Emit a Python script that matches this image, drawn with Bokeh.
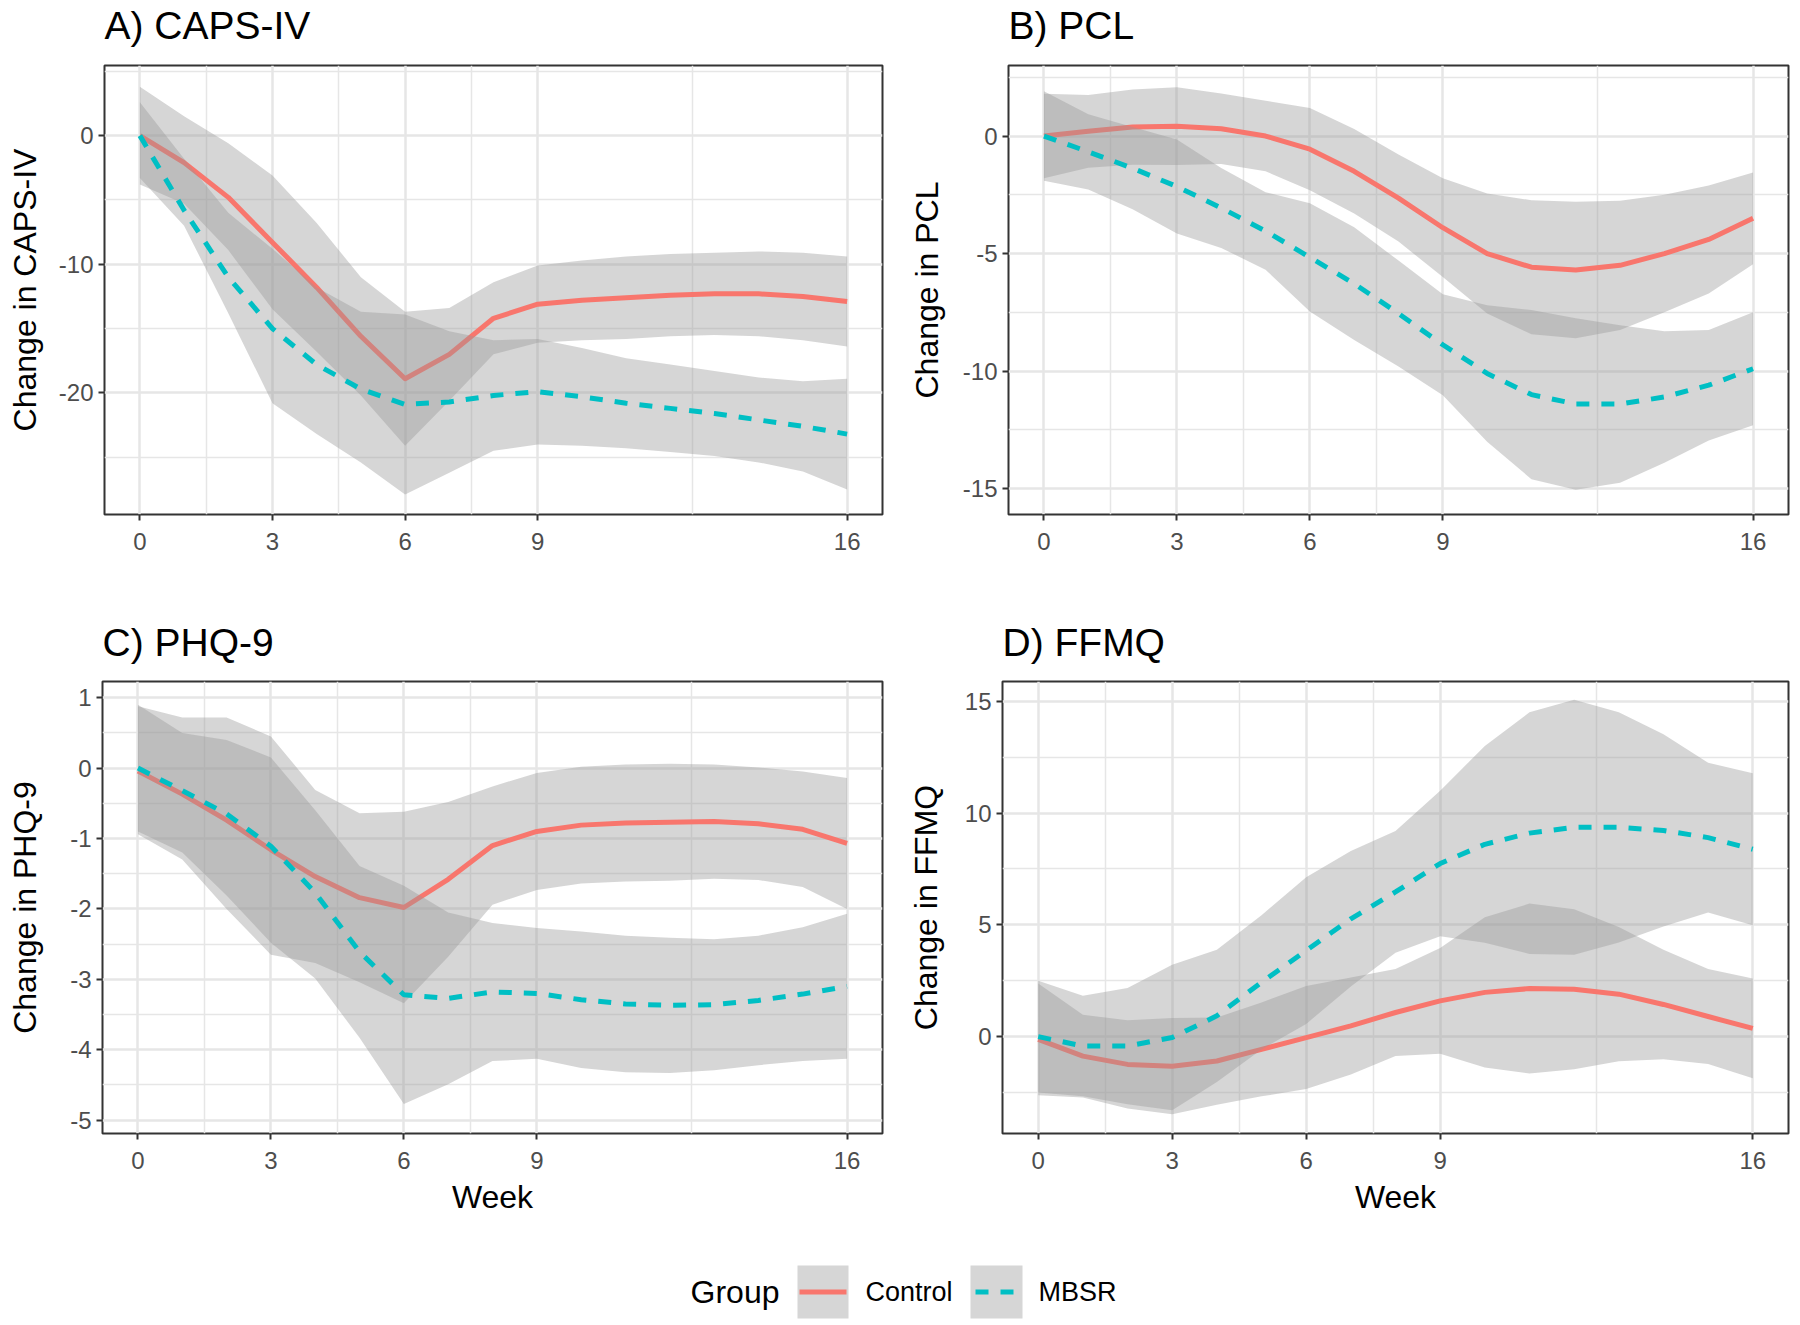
from bokeh.plotting import figure
from bokeh.models import FixedTicker, Range1d, Label
from bokeh.layouts import column, row
from bokeh.embed import file_html
from bokeh.resources import INLINE

# ---------------- data ----------------
weeks = list(range(17))
week_ticks = [0, 3, 6, 9, 16]
week_minor = [1.5, 4.5, 7.5, 12.5]
panel_titles = ["A) CAPS-IV", "B) PCL", "C) PHQ-9", "D) FFMQ"]
y_labels = ["Change in CAPS-IV", "Change in PCL", "Change in PHQ-9", "Change in FFMQ"]

# A) CAPS-IV
caps_ctrl_mean = [0, -2.1, -4.8, -8.3, -11.8, -15.6, -18.9, -17.0, -14.2, -13.1, -12.8, -12.6, -12.4, -12.3, -12.3, -12.5, -12.9]
caps_ctrl_lo = [-3.8, -5.3, -8.9, -13.5, -16.8, -20.2, -24.1, -20.6, -17.0, -16.1, -15.9, -15.8, -15.6, -15.5, -15.6, -15.9, -16.4]
caps_ctrl_hi = [3.8, 1.5, -0.6, -3.1, -6.8, -11.0, -13.7, -13.4, -11.4, -10.1, -9.7, -9.4, -9.2, -9.1, -9.0, -9.1, -9.4]
caps_mbsr_mean = [0, -5.8, -11.0, -15.0, -17.8, -19.7, -20.9, -20.7, -20.2, -19.9, -20.3, -20.8, -21.2, -21.6, -22.1, -22.6, -23.2]
caps_mbsr_lo = [-3.3, -7.0, -13.8, -20.8, -23.2, -25.4, -27.9, -26.2, -24.5, -24.0, -24.1, -24.3, -24.6, -24.9, -25.4, -26.1, -27.5]
caps_mbsr_hi = [2.6, -1.8, -6.0, -8.8, -11.8, -13.7, -13.9, -15.2, -15.9, -15.8, -16.5, -17.3, -17.8, -18.3, -18.8, -19.1, -18.9]

# B) PCL
pcl_ctrl_mean = [0, 0.2, 0.38, 0.42, 0.31, 0.0, -0.56, -1.5, -2.64, -3.9, -5.0, -5.58, -5.7, -5.5, -5.0, -4.4, -3.5]
pcl_ctrl_lo = [-1.8, -1.35, -1.22, -1.23, -1.19, -1.5, -2.31, -3.3, -4.49, -6.0, -7.55, -8.43, -8.6, -8.25, -7.5, -6.7, -5.45]
pcl_ctrl_hi = [1.8, 1.75, 1.98, 2.07, 1.81, 1.5, 1.19, 0.3, -0.79, -1.8, -2.45, -2.73, -2.8, -2.75, -2.5, -2.1, -1.55]
pcl_mbsr_mean = [0, -0.67, -1.37, -2.15, -3.06, -4.04, -5.16, -6.28, -7.55, -8.88, -10.1, -11.0, -11.4, -11.4, -11.1, -10.6, -9.9]
pcl_mbsr_lo = [-1.9, -2.27, -3.12, -4.15, -4.76, -5.69, -7.46, -8.68, -9.8, -11.03, -13.0, -14.6, -15.05, -14.75, -13.9, -12.95, -12.3]
pcl_mbsr_hi = [1.9, 0.93, 0.38, -0.15, -1.36, -2.39, -2.86, -3.88, -5.3, -6.73, -7.2, -7.4, -7.75, -8.05, -8.3, -8.25, -7.5]

# C) PHQ-9
phq_ctrl_mean = [-0.04, -0.37, -0.74, -1.16, -1.54, -1.84, -1.98, -1.58, -1.1, -0.9, -0.81, -0.78, -0.77, -0.76, -0.79, -0.87, -1.07]
phq_ctrl_lo = [-0.94, -1.3, -2.0, -2.65, -2.77, -3.04, -3.34, -2.68, -1.94, -1.73, -1.64, -1.61, -1.6, -1.57, -1.59, -1.69, -2.0]
phq_ctrl_hi = [0.88, 0.72, 0.72, 0.45, -0.31, -0.64, -0.62, -0.48, -0.26, -0.07, 0.02, 0.05, 0.06, 0.05, 0.01, -0.05, -0.14]
phq_mbsr_mean = [0, -0.32, -0.65, -1.11, -1.77, -2.61, -3.22, -3.27, -3.18, -3.2, -3.29, -3.35, -3.37, -3.36, -3.3, -3.21, -3.1]
phq_mbsr_lo = [-0.9, -1.2, -1.81, -2.48, -2.99, -3.83, -4.77, -4.49, -4.16, -4.13, -4.26, -4.32, -4.33, -4.29, -4.22, -4.16, -4.13]
phq_mbsr_hi = [0.9, 0.5, 0.4, 0.15, -0.6, -1.39, -1.67, -2.05, -2.2, -2.27, -2.32, -2.38, -2.41, -2.43, -2.38, -2.26, -2.07]

# D) FFMQ
ffmq_ctrl_mean = [-0.12, -0.87, -1.24, -1.32, -1.09, -0.57, -0.04, 0.48, 1.08, 1.6, 1.98, 2.15, 2.12, 1.9, 1.44, 0.9, 0.37]
ffmq_ctrl_lo = [-2.62, -2.72, -3.21, -3.47, -3.04, -2.67, -2.34, -1.69, -0.87, -0.76, -1.38, -1.65, -1.46, -1.1, -1.01, -1.22, -1.86]
ffmq_ctrl_hi = [2.38, 0.98, 0.73, 0.83, 0.86, 1.53, 2.26, 2.65, 3.03, 3.96, 5.34, 5.95, 5.7, 4.9, 3.89, 3.02, 2.6]
ffmq_mbsr_mean = [0, -0.42, -0.42, -0.04, 0.93, 2.43, 3.85, 5.27, 6.47, 7.74, 8.6, 9.1, 9.36, 9.36, 9.22, 8.9, 8.38]
ffmq_mbsr_lo = [-2.5, -2.67, -3.02, -3.29, -2.03, -0.57, 0.57, 2.24, 3.75, 4.49, 4.2, 3.7, 3.66, 4.21, 4.92, 5.55, 4.98]
ffmq_mbsr_hi = [2.5, 1.83, 2.18, 3.21, 3.89, 5.43, 7.13, 8.3, 9.19, 10.99, 13.0, 14.5, 15.06, 14.51, 13.52, 12.25, 11.78]

groups = ["Control", "MBSR"]
legend_title = "Group"

# ---------------- style ----------------
FONT = "Liberation Sans"
RED = "#F8766D"
TEAL = "#00BFC4"
RIBBON = "#999999"
GRID = "#e6e6e6"
DASH = "13 12"
LINE_W = 5
X_START, X_END = -0.8, 16.8
PAGE_W = 1792


def strip(height):
    """A blank strip whose data units are pixels, used for titles and the legend."""
    s = figure(width=PAGE_W, height=height, x_range=Range1d(0, PAGE_W), y_range=Range1d(0, height),
               output_backend="svg", toolbar_location=None, x_axis_location=None,
               y_axis_location=None, min_border_left=0, min_border_right=0,
               min_border_top=0, min_border_bottom=0, outline_line_color=None,
               background_fill_color="white", border_fill_color="white")
    s.grid.visible = False
    return s


def make_panel(ylabel, yrange, ymajor, yminor, ctrl, mbsr, width, height,
               bl, br, bt, bb, ylab_standoff, xlabel=None):
    p = figure(width=width, height=height, x_range=Range1d(X_START, X_END),
               y_range=Range1d(*yrange), output_backend="svg", toolbar_location=None,
               min_border_left=bl, min_border_right=br, min_border_top=bt,
               min_border_bottom=bb,
               background_fill_color="white", border_fill_color="white")
    p.outline_line_color = "#333333"
    p.outline_line_width = 2

    xt = FixedTicker(ticks=week_ticks, minor_ticks=week_minor)
    yt = FixedTicker(ticks=ymajor, minor_ticks=yminor)
    p.xaxis.ticker = xt
    p.yaxis.ticker = yt
    p.xgrid.ticker = xt
    p.ygrid.ticker = yt
    for g in (p.xgrid, p.ygrid):
        g.grid_line_color = GRID
        g.grid_line_width = 2.5
        g.minor_grid_line_color = GRID
        g.minor_grid_line_width = 1.5
    for ax in (p.xaxis, p.yaxis):
        ax.axis_line_color = None
        ax.major_tick_line_color = "#333333"
        ax.major_tick_line_width = 2
        ax.major_tick_out = 6
        ax.major_tick_in = 0
        ax.minor_tick_line_color = None
        ax.major_label_text_font = FONT
        ax.major_label_text_font_size = "24px"
        ax.major_label_text_color = "#4d4d4d"
        ax.major_label_standoff = 5
        ax.axis_label_text_font = FONT
        ax.axis_label_text_font_size = "32px"
        ax.axis_label_text_font_style = "normal"
        ax.axis_label_text_color = "black"
    p.xaxis.major_label_overrides = {v: str(v) for v in week_ticks}
    p.yaxis.major_label_overrides = {v: str(v) for v in ymajor}
    p.xaxis.major_label_standoff = 12
    p.yaxis.axis_label = ylabel
    p.yaxis.axis_label_standoff = ylab_standoff
    if xlabel:
        p.xaxis.axis_label = xlabel
        p.xaxis.axis_label_standoff = 7

    c_mean, c_lo, c_hi = ctrl
    m_mean, m_lo, m_hi = mbsr
    p.varea(x=weeks, y1=c_lo, y2=c_hi, fill_color=RIBBON, fill_alpha=0.4)
    p.line(weeks, c_mean, line_color=RED, line_width=LINE_W, line_join="round")
    p.varea(x=weeks, y1=m_lo, y2=m_hi, fill_color=RIBBON, fill_alpha=0.4)
    p.line(weeks, m_mean, line_color=TEAL, line_width=LINE_W, line_dash=DASH)
    return p


pA = make_panel(y_labels[0], (-29.45, 5.45), [-20, -10, 0], [-25, -15, -5, 5],
                (caps_ctrl_mean, caps_ctrl_lo, caps_ctrl_hi), (caps_mbsr_mean, caps_mbsr_lo, caps_mbsr_hi),
                width=900, height=560, bl=104, br=18, bt=17, bb=94, ylab_standoff=13)
pB = make_panel(y_labels[1], (-16.1, 3.0), [-15, -10, -5, 0], [-12.5, -7.5, -2.5, 2.5],
                (pcl_ctrl_mean, pcl_ctrl_lo, pcl_ctrl_hi), (pcl_mbsr_mean, pcl_mbsr_lo, pcl_mbsr_hi),
                width=892, height=560, bl=108, br=4, bt=17, bb=94, ylab_standoff=15)
pC = make_panel(y_labels[2], (-5.19, 1.23), [-5, -4, -3, -2, -1, 0, 1],
                [-4.5, -3.5, -2.5, -1.5, -0.5, 0.5],
                (phq_ctrl_mean, phq_ctrl_lo, phq_ctrl_hi), (phq_mbsr_mean, phq_mbsr_lo, phq_mbsr_hi),
                width=900, height=572, bl=102, br=18, bt=15, bb=105, ylab_standoff=24, xlabel="Week")
pD = make_panel(y_labels[3], (-4.33, 15.88), [0, 5, 10, 15], [-2.5, 2.5, 7.5, 12.5],
                (ffmq_ctrl_mean, ffmq_ctrl_lo, ffmq_ctrl_hi), (ffmq_mbsr_mean, ffmq_mbsr_lo, ffmq_mbsr_hi),
                width=892, height=572, bl=102, br=4, bt=15, bb=105, ylab_standoff=18, xlabel="Week")

# ---------------- panel titles ----------------
T1 = strip(48)
T2 = strip(58)
for s, mid_y, xs, names in [(T1, 23.5, [104, 1008], panel_titles[:2]),
                            (T2, 24.5, [102, 1002], panel_titles[2:])]:
    for x, name in zip(xs, names):
        s.add_layout(Label(x=x, y=mid_y, text=name, text_font=FONT, text_font_size="39px",
                           text_color="black", text_align="left", text_baseline="middle"))

# ---------------- legend ----------------
pL = strip(82)
KEY_Y0, KEY_Y1 = 2, 55
KEY_MID = (KEY_Y0 + KEY_Y1) / 2
key_left = [797, 970]
key_right = [848, 1022]
line_x0 = [799, 975]
line_x1 = [846, 1013]
label_x = [865, 1038]
pL.quad(left=key_left, right=key_right, bottom=[KEY_Y0] * 2, top=[KEY_Y1] * 2,
        fill_color=RIBBON, fill_alpha=0.4, line_color=None)
for i, (col, dash) in enumerate(zip([RED, TEAL], ["solid", DASH])):
    pL.line(x=[line_x0[i], line_x1[i]], y=[KEY_MID, KEY_MID], line_color=col,
            line_width=LINE_W, line_dash=dash)
    pL.add_layout(Label(x=label_x[i], y=KEY_MID, text=groups[i], text_font=FONT,
                        text_font_size="27px", text_color="black", text_align="left",
                        text_baseline="middle"))
pL.add_layout(Label(x=779, y=KEY_MID, text=legend_title, text_font=FONT, text_font_size="32px",
                    text_color="black", text_align="right", text_baseline="middle"))

layout = column(T1, row(pA, pB), T2, row(pC, pD), pL)
open("out.html", "w").write(file_html(layout, INLINE))
